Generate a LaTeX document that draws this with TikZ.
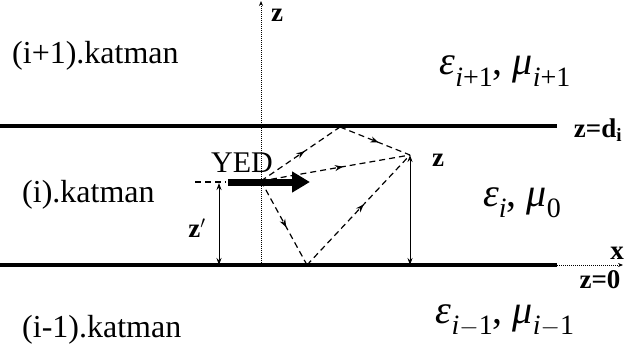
\documentclass[tikz,border=0pt]{standalone}
\usepackage{fontspec}
\setmainfont{Liberation Serif}
\usetikzlibrary{arrows.meta,decorations.markings}
\newcommand{\msub}[1]{\raisebox{-0.28em}{\fontsize{28}{31}\selectfont #1}}
\begin{document}
\begin{tikzpicture}[x=1pt,y=-1pt,
  layer/.style={line width=4pt},
  axisline/.style={densely dotted,line width=1pt},
  ray/.style={dash pattern=on 6pt off 4pt,line width=1.2pt,postaction={decorate},
    decoration={markings,mark=at position 0.55 with {\arrow{Stealth[length=8pt,width=6pt]}}}},
  dim/.style={line width=1pt,{Stealth[length=7pt,width=5pt]}-{Stealth[length=7pt,width=5pt]}},
  katman/.style={anchor=west,inner sep=0pt,font=\fontsize{32}{36}\selectfont},
  mat/.style={inner sep=0pt,font=\fontsize{40}{44}\selectfont},
  lbl/.style={inner sep=0pt,font=\fontsize{27}{30}\selectfont\bfseries},
]
\useasboundingbox (0,0) rectangle (624,356);
% layer boundaries
\coordinate (tl) at (0,126);
\coordinate (tr) at (557,126);
\coordinate (bl) at (0,265);
\coordinate (br) at (557,265);
\draw[layer] (tl) -- (tr);
\draw[layer] (bl) -- (br);
% axes
\coordinate (zb) at (261,265);
\coordinate (zt) at (261,1);
\draw[axisline,-{Stealth[length=5pt,width=4pt]}] (zb) -- (zt);
\node[lbl] (zlab) at (277,15) {z};
\coordinate (xe) at (623,265);
\draw[axisline,-{Stealth[length=5pt,width=4pt]}] (br) -- (xe);
\node[lbl] (xlab) at (617,253) {x};
\node[lbl] (zd) at (598,130) {z=d\textsubscript{i}};
\node[lbl] (z0) at (600,280) {z=0};
% layer names
\node[katman] (k1) at (12,56) {(i+1).katman};
\node[katman] (k2) at (22,195) {(i).katman};
\node[katman] (k3) at (22,330) {(i-1).katman};
% materials
\node[mat] (m1) at (505,71) {\textit{ε}\msub{\textit{i}+1}, \textit{μ}\msub{\textit{i}+1}};
\node[mat] (m2) at (522,203) {\textit{ε}\msub{\textit{i}}, \textit{μ}\msub{0}};
\node[mat] (m3) at (505,321) {\textit{ε}\msub{\textit{i}$-$1}, \textit{μ}\msub{\textit{i}$-$1}};
% source
\coordinate (S) at (261,181);
\coordinate (dl) at (195,182);
\coordinate (dr) at (226,182);
\draw[dash pattern=on 6pt off 4pt,line width=1.2pt] (dl) -- (dr);
\coordinate (as) at (228,182);
\coordinate (ae) at (310,182);
\draw[line width=7pt,-{Triangle[length=18pt,width=20pt]}] (as) -- (ae);
\node[inner sep=0pt,font=\fontsize{30}{33}\selectfont] (yed) at (242,163) {YED};
% observation point
\coordinate (O) at (410,155);
\coordinate (Ob) at (410,265);
\node[lbl] (zo) at (438,160) {z};
\coordinate (T) at (340,127);
\coordinate (B) at (307,265);
\draw[ray] (S) -- (T);
\draw[ray] (T) -- (O);
\draw[ray] (S) -- (O);
\draw[ray] (S) -- (B);
\draw[ray] (B) -- (O);
\draw[dim] (O) -- (Ob);
% z' dimension
\coordinate (zp1) at (219,183);
\coordinate (zp2) at (219,265);
\draw[dim] (zp1) -- (zp2);
\node[lbl] (zp) at (197,228) {z$'$};
\end{tikzpicture}
\end{document}
